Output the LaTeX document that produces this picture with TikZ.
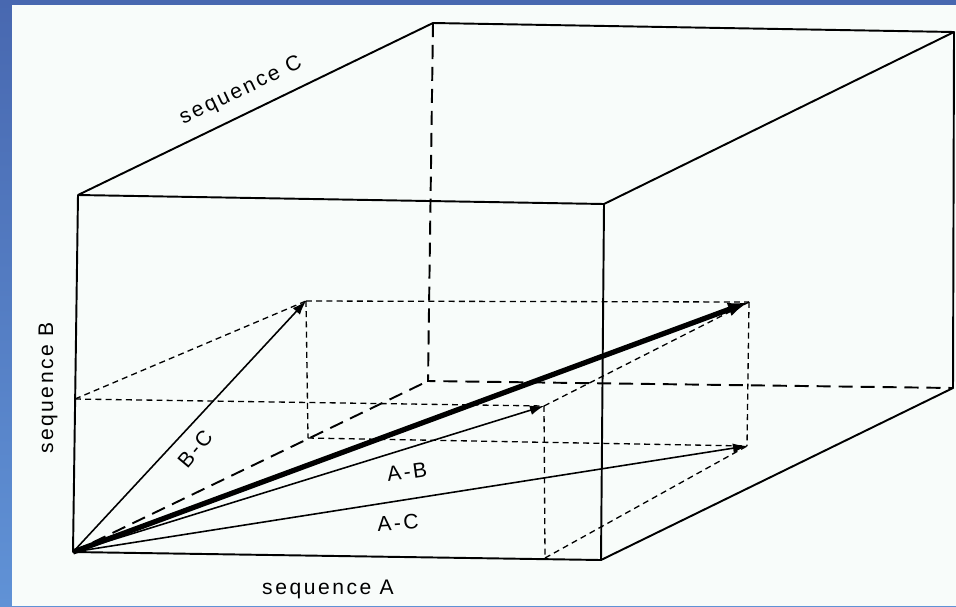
\documentclass[tikz,border=0pt]{standalone}
\usepackage{fontspec}
\newfontfamily\seqfont[LetterSpace=12]{Liberation Sans}
\usetikzlibrary{arrows.meta}
\definecolor{slideblue}{RGB}{72,104,176}
\definecolor{slidelight}{RGB}{96,146,214}
\definecolor{paper}{RGB}{248,252,250}

\begin{document}
\begin{tikzpicture}[x=0.02cm, y=-0.02cm,
    cubeline/.style={line width=1.1pt, line join=round},
    hiddenline/.style={line width=1.1pt, dash pattern=on 8pt off 4.5pt},
    guideline/.style={line width=0.75pt, dash pattern=on 3.4pt off 2.4pt},
    vec/.style={line width=0.9pt, -{Latex[length=8pt,width=5.5pt]}},
    sumvec/.style={line width=3pt, -{Latex[length=12pt,width=8pt]}},
    lbl/.style={font=\seqfont\fontsize{12}{14}\selectfont, inner sep=0pt}]
    \useasboundingbox (0,0) rectangle (956,606);
    \shade[top color=slideblue, bottom color=slidelight] (0,0) rectangle (956,606);
    \fill[paper] (12,5) rectangle (956,606);
    % corners of the box
    \coordinate (O)   at (73,552);
    \coordinate (Fbr) at (601,560);
    \coordinate (Ftl) at (78,195);
    \coordinate (Ftr) at (604,204);
    \coordinate (Btl) at (433,23);
    \coordinate (Btr) at (954,32);
    \coordinate (Bbr) at (953,388);
    \coordinate (Bbl) at (428,381);
    % corners of the inner box
    \coordinate (pa)   at (545,558);
    \coordinate (pb)   at (75,399);
    \coordinate (pc)   at (308,438);
    \coordinate (pab)  at (544,406);
    \coordinate (pac)  at (747,446);
    \coordinate (pbc)  at (306,301);
    \coordinate (pabc) at (749,302);
    % hidden edges
    \draw[hiddenline] (Btl) -- (Bbl) -- (Bbr);
    \draw[hiddenline] (O) -- (Bbl);
    \foreach \p/\q in {pb/pbc, pb/pab, pbc/pabc, pbc/pc, pc/pac,
                       pabc/pac, pab/pa, pa/pac, pab/pabc}
      \draw[guideline] (\p) -- (\q);
    % visible edges
    \draw[cubeline] (O) -- (Fbr) -- (Ftr) -- (Ftl) -- cycle;
    \draw[cubeline] (Ftl) -- (Btl) -- (Btr) -- (Ftr);
    \draw[cubeline] (Btr) -- (Bbr) -- (Fbr);
    % vectors
    \draw[vec] (O) -- (pbc);
    \draw[vec] (O) -- (pab);
    \draw[vec] (O) -- (pac);
    \draw[sumvec] (O) -- (pabc);
    % labels
    \node[lbl, rotate=25.8] (seqC) at (241,91) {sequence C};
    \node[lbl, rotate=90] (seqB) at (48,388) {sequence B};
    \node[lbl] (seqA) at (328,589) {sequence A};
    \node[lbl, rotate=50] (labBC) at (195,449) {B-C};
    \node[lbl, rotate=8] (labAB) at (407,472) {A-B};
    \node[lbl, rotate=4] (labAC) at (398,523) {A-C};
\end{tikzpicture}
\end{document}
